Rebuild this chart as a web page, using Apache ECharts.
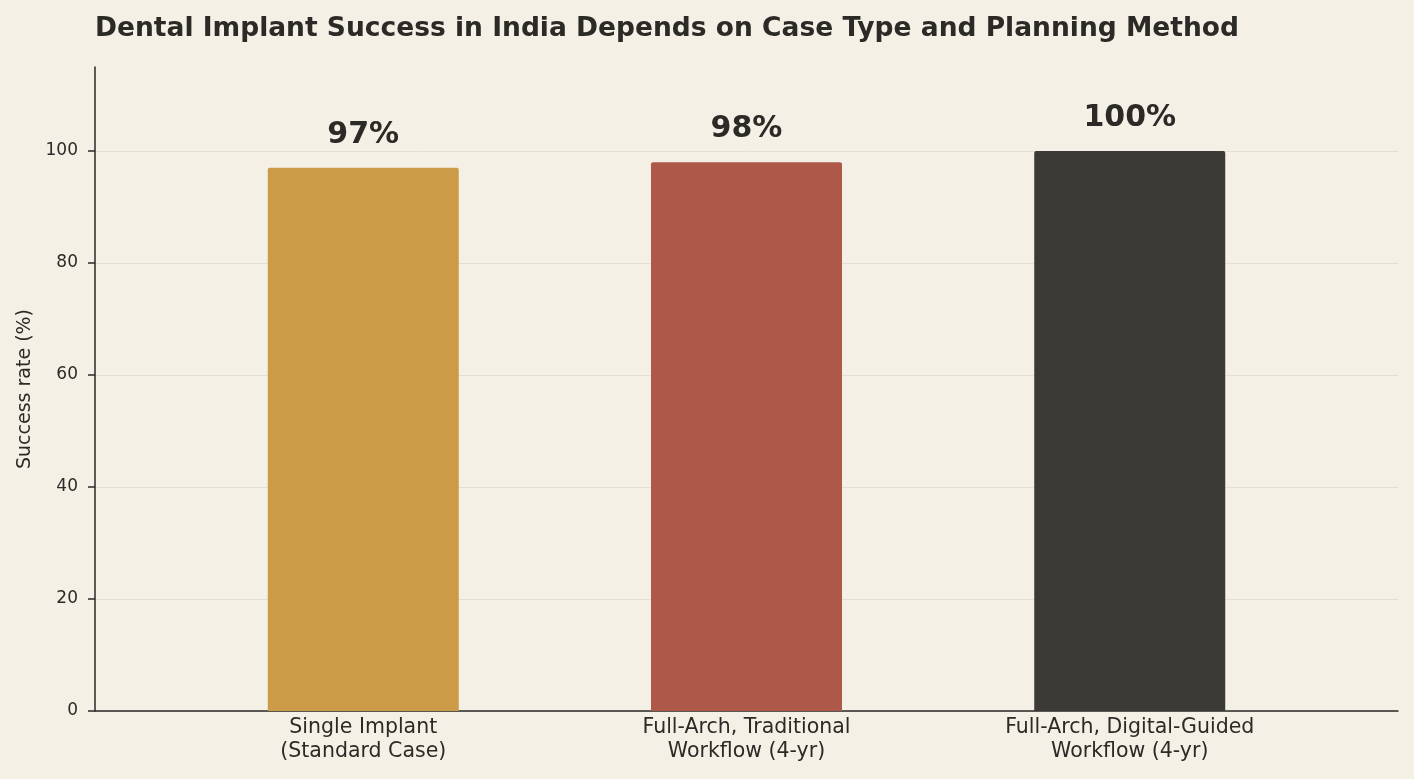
<!DOCTYPE html>
<html lang="en">
<head>
    <meta charset="UTF-8">
    <title>Dental Implant Success</title>
    <script src="https://cdn.jsdelivr.net/npm/echarts@6/dist/echarts.min.js"></script>
    <style>
        body { margin: 0; padding: 0; background: #F5F0E6; }
        #main { width: 1414px; height: 779px; }
    </style>
</head>
<body>
    <div id="main"></div>
    <script>
        // chart data
        var categories = ['Single Implant\n(Standard Case)', 'Full-Arch, Traditional\nWorkflow (4-yr)', 'Full-Arch, Digital-Guided\nWorkflow (4-yr)'];
        var successRates = [97, 98, 100];
        var barColors = ['#CB9B47', '#AD5849', '#3B3A36'];
        var yTicks = [0, 20, 40, 60, 80, 100];

        var FONT = '"DejaVu Sans", sans-serif';
        var chartDom = document.getElementById('main');
        var myChart = echarts.init(chartDom);

        var option = {
            backgroundColor: '#F5F0E6',
            textStyle: { fontFamily: FONT },
            title: {
                text: 'Dental Implant Success in India Depends on Case Type and Planning Method',
                left: 90,
                top: 11,
                textStyle: { fontSize: 26.5, fontWeight: 'bold', color: '#2B2A26', fontFamily: FONT }
            },
            grid: { left: 95, right: 16, top: 67, bottom: 68 },
            xAxis: {
                type: 'value',
                min: -0.7,
                max: 2.7,
                axisLine: { show: true, onZero: false, lineStyle: { color: '#2B2A26', width: 1.5 } },
                axisTick: { show: false },
                splitLine: { show: false },
                axisLabel: {
                    customValues: [0, 1, 2],
                    formatter: function (v) { return categories[Math.round(v)] || ''; },
                    fontSize: 20.5,
                    lineHeight: 24,
                    color: '#2B2A26',
                    fontFamily: FONT,
                    margin: 5
                }
            },
            yAxis: {
                type: 'value',
                min: 0,
                max: 115,
                name: 'Success rate (%)',
                nameLocation: 'middle',
                nameGap: 60,
                nameTextStyle: { fontSize: 19, color: '#2B2A26', fontFamily: FONT },
                axisLine: { show: true, onZero: false, lineStyle: { color: '#2B2A26', width: 1.5 } },
                axisTick: { show: true, length: 7, customValues: yTicks, lineStyle: { color: '#2B2A26', width: 1.5 } },
                axisLabel: { customValues: yTicks, fontSize: 17, color: '#2B2A26', fontFamily: FONT, margin: 17 },
                splitLine: { show: true, lineStyle: { color: '#E4DFD4', width: 1 } }
            },
            series: [{
                type: 'bar',
                barWidth: 191,
                data: successRates.map(function (v, i) {
                    return { value: [i, v], itemStyle: { color: barColors[i] } };
                }),
                itemStyle: { borderRadius: [2, 2, 0, 0] },
                label: {
                    show: true,
                    position: 'top',
                    distance: 18,
                    formatter: function (p) { return p.value[1] + '%'; },
                    fontSize: 30,
                    fontWeight: 'bold',
                    color: '#2B2A26',
                    fontFamily: FONT
                }
            }]
        };

        option && myChart.setOption(option);
    </script>
</body>
</html>
